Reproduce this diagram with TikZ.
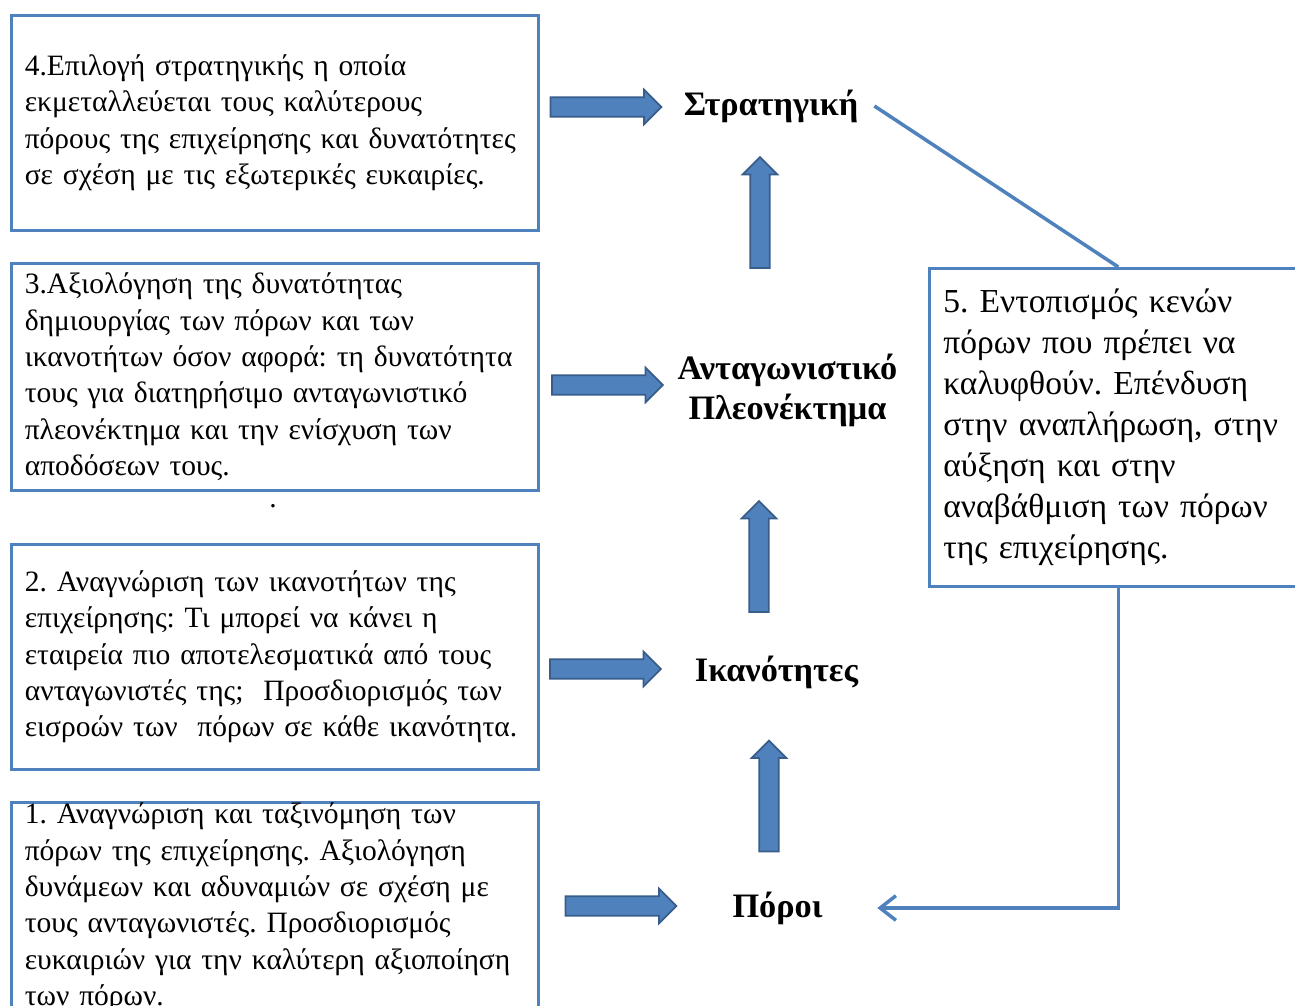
\documentclass[tikz,border=0pt]{standalone}
\usepackage{fontspec}
\setmainfont{Liberation Serif}
\usetikzlibrary{arrows.meta,
shapes.arrows,
calc,
positioning}
\definecolor{boxblue}{RGB}{79,129,189}
\definecolor{arrowedge}{RGB}{56,93,138}
\frenchspacing

\begin{document}
\begin{tikzpicture} [x=0.02cm, y=-0.02cm,
    every node/.style={font=\fontsize{16.8}{20.7}\selectfont},
    text box/.style={draw=boxblue, line width=1.5pt, anchor=north west,
        align=left, inner xsep=0.27cm, text width=10cm},
    level/.style={font=\fontsize{19.5}{22.7}\selectfont\bfseries,
        align=center, inner xsep=9pt},
    block arrow/.style={single arrow, draw=arrowedge, fill=boxblue,
        line width=1pt, inner xsep=0pt, inner ysep=5.1pt,
        single arrow head extend=4.25pt, minimum height=2.22cm},
    link/.style={draw=boxblue, line width=2pt}
  ]

  \useasboundingbox (0, 0) rectangle (1295, 1006);

  % left column
  \node [text box, minimum height=4.3cm] (box4) at (10, 14)
  {4.Επιλογή στρατηγικής η οποία\\
    εκμεταλλεύεται τους καλύτερους\\
    πόρους της επιχείρησης και δυνατότητες\\
    σε σχέση με τις εξωτερικές ευκαιρίες.};

  \node [text box, minimum height=4.54cm] (box3) at (10, 262)
  {3.Αξιολόγηση της δυνατότητας\\
    δημιουργίας των πόρων και των\\
    ικανοτήτων όσον αφορά: τη δυνατότητα\\
    τους για διατηρήσιμο ανταγωνιστικό\\
    πλεονέκτημα και την ενίσχυση των\\
    αποδόσεων τους.};

  \node (dot) at (273, 506) {.};

  \node [text box, minimum height=4.5cm] (box2) at (10, 543)
  {2. Αναγνώριση των ικανοτήτων της\\
    επιχείρησης: Τι μπορεί να κάνει η\\
    εταιρεία πιο αποτελεσματικά από τους\\
    ανταγωνιστές της;~ Προσδιορισμός των\\
    εισροών των~ πόρων σε κάθε ικανότητα.};

  \node [text box, minimum height=4.2cm, inner ysep=0pt] (box1) at (10, 801)
  {1. Αναγνώριση και ταξινόμηση των\\
    πόρων της επιχείρησης. Αξιολόγηση\\
    δυνάμεων και αδυναμιών σε σχέση με\\
    τους ανταγωνιστές. Προσδιορισμός\\
    ευκαιριών για την καλύτερη αξιοποίηση\\
    των πόρων.};

  % middle column
  \node [level] (strat) at (771, 106) {Στρατηγική};
  \node [level] (antag) at (787.5, 390) {Ανταγωνιστικό\\Πλεονέκτημα};
  \node [level] (ikan) at (776.5, 672) {Ικανότητες};
  \node [level] (poroi) at (777.5, 908) {Πόροι};

  \node [block arrow] (ar4) at (601, 107) {};
  \node [block arrow] (ar3) at (602.5, 385) {};
  \node [block arrow] (ar2) at (600.5, 669) {};
  \node [block arrow] (ar1) at (616, 906) {};

  \node [block arrow, rotate=90] (up1) at (760, 217.5) {};
  \node [block arrow, rotate=90] (up2) at (759, 561.5) {};
  \node [block arrow, rotate=90] (up3) at (769, 801) {};

  % right column
  \node [text box, minimum height=6.36cm, inner xsep=0.28cm,
    text width=7cm, font=\fontsize{19.1}{23.3}\selectfont
  ] (box5) at (928, 267)
  {5. Εντοπισμός κενών\\
    πόρων που πρέπει να\\
    καλυφθούν. Επένδυση\\
    στην αναπλήρωση, στην\\
    αύξηση και στην\\
    αναβάθμιση των πόρων\\
    της επιχείρησης.};

  \draw [link] (strat.east) -- (box5.north);
  \draw [link, -{Straight Barb[length=9pt, width=14pt]}, shorten >=22pt]
  (box5.south) |- (poroi.east);

\end{tikzpicture}
\end{document}
